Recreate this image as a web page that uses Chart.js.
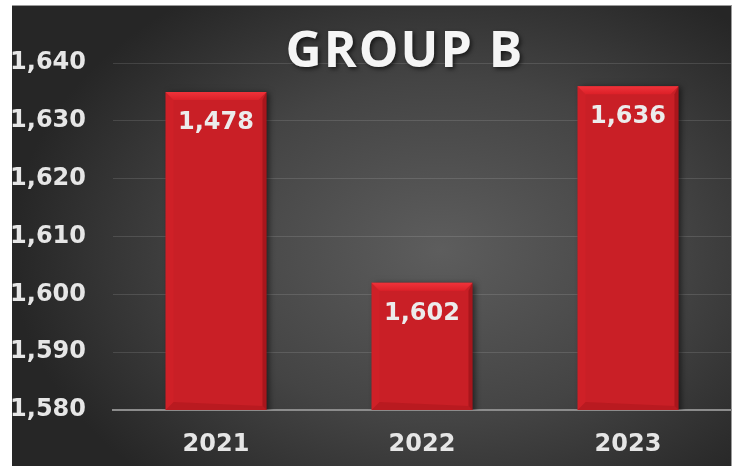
<!DOCTYPE html>
<html>
<head>
<meta charset="utf-8">
<style>
  html, body { margin: 0; padding: 0; background: #fff; }
  #wrap { width: 739px; height: 466px; }
</style>
<script src="https://cdn.jsdelivr.net/npm/chart.js@4/dist/chart.umd.min.js"></script>
</head>
<body>
<div id="wrap"><canvas id="chart" width="739" height="466"></canvas></div>
<script>
// chart data
const categories = ['2021', '2022', '2023'];
const values = [1635, 1602, 1636];
const valueLabels = ['1,478', '1,602', '1,636'];
const yMin = 1580;
const yMax = 1640;
const yStep = 10;
const chartTitle = 'GROUP B';

// dark radial backdrop with white frame round it
const backdrop = {
  id: 'backdrop',
  beforeDraw(chart) {
    const ctx = chart.ctx;
    ctx.save();
    ctx.fillStyle = '#ffffff';
    ctx.fillRect(0, 0, chart.width, chart.height);
    ctx.translate(440, 250);
    ctx.scale(1, 0.72);
    const g = ctx.createRadialGradient(0, 0, 0, 0, 0, 430);
    g.addColorStop(0, '#5d5d5d');
    g.addColorStop(0.55, '#444444');
    g.addColorStop(1, '#262626');
    ctx.fillStyle = g;
    ctx.fillRect(-440 + 12, (5 - 250) / 0.72, 720, 470 / 0.72);
    ctx.restore();
    ctx.fillStyle = '#9a9a9a';
    ctx.fillRect(12, 5, 720, 1);
    ctx.fillRect(731, 5, 1, chart.height);
  },
  afterDraw(chart) {
    const ctx = chart.ctx;
    ctx.save();
    ctx.fillStyle = '#ffffff';
    ctx.fillRect(0, 0, 12, chart.height);
    ctx.fillRect(732, 0, 7, chart.height);
    // title
    ctx.font = 'bold 50px "Open Sans"';
    ctx.letterSpacing = '2px';
    ctx.textAlign = 'center';
    ctx.textBaseline = 'middle';
    ctx.shadowColor = 'rgba(0,0,0,0.6)';
    ctx.shadowOffsetX = 2;
    ctx.shadowOffsetY = 2;
    ctx.shadowBlur = 4;
    ctx.fillStyle = '#f5f5f5';
    ctx.fillText(chartTitle, 405, 53);
    ctx.restore();
  }
};

// shadow, bevel and value text on the bars
const barStyle = {
  id: 'barStyle',
  beforeDatasetsDraw(chart) {
    const ctx = chart.ctx;
    ctx.save();
    ctx.shadowColor = 'rgba(0,0,0,0.55)';
    ctx.shadowOffsetX = 3;
    ctx.shadowOffsetY = 1;
    ctx.shadowBlur = 6;
  },
  afterDatasetsDraw(chart) {
    const ctx = chart.ctx;
    ctx.restore();
    const meta = chart.getDatasetMeta(0);
    const b = 8;
    const floor = chart.scales.y.getPixelForValue(yMin);
    meta.data.forEach((bar, i) => {
      const l = bar.x - bar.width / 2;
      const r = bar.x + bar.width / 2;
      const t = bar.y;
      const bot = Math.min(bar.base, floor);
      ctx.save();
      // top bevel
      const tg = ctx.createLinearGradient(0, t, 0, t + b);
      tg.addColorStop(0, '#f0333a');
      tg.addColorStop(1, '#dc2028');
      ctx.fillStyle = tg;
      ctx.beginPath();
      ctx.moveTo(l, t);
      ctx.lineTo(r, t);
      ctx.lineTo(r - b, t + b);
      ctx.lineTo(l + b, t + b);
      ctx.closePath();
      ctx.fill();
      // left bevel
      ctx.fillStyle = 'rgba(235,40,46,0.2)';
      ctx.beginPath();
      ctx.moveTo(l, t);
      ctx.lineTo(l + b, t + b);
      ctx.lineTo(l + b, bot - b);
      ctx.lineTo(l, bot);
      ctx.closePath();
      ctx.fill();
      // right bevel
      ctx.fillStyle = 'rgba(120,10,14,0.4)';
      ctx.beginPath();
      ctx.moveTo(r, t);
      ctx.lineTo(r - b / 2, t + b);
      ctx.lineTo(r - b / 2, bot - b / 2);
      ctx.lineTo(r, bot);
      ctx.closePath();
      ctx.fill();
      // bottom bevel
      ctx.fillStyle = 'rgba(140,12,16,0.25)';
      ctx.beginPath();
      ctx.moveTo(l, bot);
      ctx.lineTo(l + b, bot - b);
      ctx.lineTo(r - b / 2, bot - b / 2);
      ctx.lineTo(r, bot);
      ctx.closePath();
      ctx.fill();
      // value text
      ctx.font = 'bold 24px "DejaVu Sans"';
      ctx.textAlign = 'center';
      ctx.textBaseline = 'middle';
      ctx.fillStyle = '#ececec';
      ctx.fillText(valueLabels[i], bar.x, t + 31);
      ctx.restore();
    });
  }
};

const ctx = document.getElementById('chart').getContext('2d');
const chart = new Chart(ctx, {
  type: 'bar',
  data: {
    labels: categories,
    datasets: [{
      data: values,
      backgroundColor: '#c91f26',
      borderWidth: 0,
      barPercentage: 0.49,
      categoryPercentage: 1.0
    }]
  },
  options: {
    responsive: false,
    animation: false,
    layout: { padding: { left: 0, top: 63, right: 8, bottom: 0 } },
    plugins: {
      legend: { display: false },
      tooltip: { enabled: false },
      title: { display: false }
    },
    scales: {
      y: {
        min: yMin,
        max: yMax,
        afterFit: (s) => { s.width = 113; },
        ticks: {
          stepSize: yStep,
          padding: 27,
          color: '#e6e6e6',
          font: { family: 'DejaVu Sans', weight: 'bold', size: 24 },
          callback: (v) => v.toLocaleString('en-US')
        },
        grid: { color: 'rgba(255,255,255,0.12)', lineWidth: 1, drawTicks: false },
        border: { display: false }
      },
      x: {
        afterFit: (s) => { s.height = 56; },
        ticks: {
          padding: 20,
          color: '#e6e6e6',
          font: { family: 'DejaVu Sans', weight: 'bold', size: 24 }
        },
        grid: { display: false, drawTicks: false },
        border: { display: true, color: '#8c8c8c', width: 2 }
      }
    }
  },
  plugins: [backdrop, barStyle]
});
</script>
</body>
</html>
